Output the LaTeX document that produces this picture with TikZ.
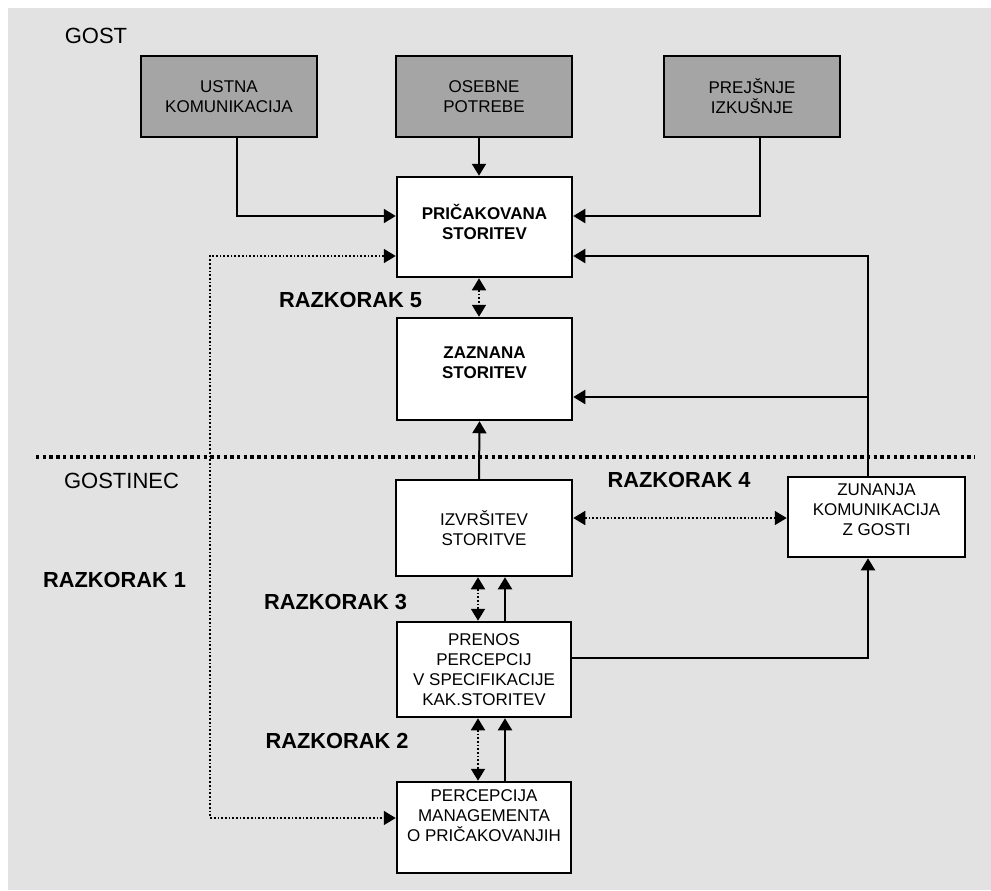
\documentclass[tikz,border=0pt]{standalone}
\usepackage{fontspec}
\setmainfont{Liberation Sans}
\usetikzlibrary{arrows.meta}
\definecolor{bggray}{RGB}{226,226,226}
\definecolor{boxgray}{RGB}{165,165,165}

\begin{document}
\begin{tikzpicture}[
    x=0.5pt, y=-0.5pt,
    box/.style={draw, rectangle, line width=1.25pt, fill=white, inner sep=0pt, align=center, font=\fontsize{8.5}{10}\selectfont},
    topbox/.style={box, fill=boxgray, minimum width=88pt, minimum height=40.5pt},
    mainbox/.style={box, font=\bfseries\fontsize{8.5}{10}\selectfont},
    side/.style={inner sep=0pt, font=\fontsize{11}{13}\selectfont},
    gaplabel/.style={inner sep=0pt, font=\bfseries\fontsize{10.9}{12}\selectfont},
    arrow/.style={-{Triangle[length=6pt,width=7pt]}, line width=1pt},
    dotarrow/.style={{Triangle[length=6pt,width=7pt]}-{Triangle[length=6pt,width=7pt]}, line width=0.85pt, dash pattern=on 0.85pt off 1pt},
    separator/.style={line width=2pt, dash pattern=on 1.7pt off 1.65pt}
]

% Background
\useasboundingbox (0,0) rectangle (991,890);
\fill[bggray] (8,8) rectangle (991,890);

% Labels
\node[side] (gost) at (96,36) {GOST};
\node[side] (gostinec) at (121.5,481) {GOSTINEC};
\node[gaplabel] (gap1) at (114.5,580) {RAZKORAK 1};
\node[gaplabel] (gap2) at (337,741) {RAZKORAK 2};
\node[gaplabel] (gap3) at (335.5,602) {RAZKORAK 3};
\node[gaplabel] (gap4) at (679,479.5) {RAZKORAK 4};
\node[gaplabel] (gap5) at (350.5,300) {RAZKORAK 5};

% Guest side
\node[topbox] (ustna) at (229,96.5) {USTNA\\KOMUNIKACIJA};
\node[topbox] (osebne) at (484,96.5) {OSEBNE\\POTREBE};
\node[topbox] (prejsnje) at (752,96.5) {PREJŠNJE\\IZKUŠNJE};
\node[mainbox, minimum width=87.5pt, minimum height=50pt] (pric) at (484.5,227) {PRIČAKOVANA\\STORITEV\\[-4.5pt]\mbox{}};
\node[mainbox, minimum width=87.5pt, minimum height=51pt] (zaz) at (484.5,369) {ZAZNANA\\STORITEV\\[-3.5pt]\mbox{}};

% Separator
\draw[separator] (36,457) -- (975,457);

% Provider side
\node[box, minimum width=88pt, minimum height=48pt] (izv) at (484,528) {IZVRŠITEV\\STORITVE};
\node[box, minimum width=88.5pt, minimum height=40pt] (zun) at (876.5,517) {ZUNANJA\\KOMUNIKACIJA\\Z GOSTI\\[-3pt]\mbox{}};
\node[box, minimum width=87pt, minimum height=47.5pt] (prenos) at (484,669.5) {PRENOS\\PERCEPCIJ\\V SPECIFIKACIJE\\KAK.STORITEV};
\node[box, minimum width=87pt, minimum height=45.5pt] (perc) at (484,827.5) {PERCEPCIJA\\MANAGEMENTA\\O PRIČAKOVANJIH\\[1.5pt]\mbox{}};
\coordinate (loop) at (210,500);
\coordinate (branch) at (868,397);

% Connections
\draw[arrow] ([xshift=4pt]ustna.south) |- ([yshift=5.5pt]pric.west);
\draw[arrow] ([xshift=-2.5pt]osebne.south) -- ([xshift=-2.75pt]pric.north);
\draw[arrow] ([xshift=4pt]prejsnje.south) |- ([yshift=5.5pt]pric.east);
\draw[arrow] ([xshift=-4.25pt]zun.north) |- ([yshift=-14.5pt]pric.east);
\draw[arrow] (branch) -- (branch -| zaz.east);
\draw[dotarrow] ([xshift=-2.75pt]pric.south) -- ([xshift=-2.75pt]zaz.north);
\draw[arrow] ([xshift=-2.5pt]izv.north) -- ([xshift=-2.5pt]zaz.south);
\draw[dotarrow] ([yshift=5pt]izv.east) -- ([yshift=5pt]izv.east -| zun.west);
\draw[arrow] ([yshift=5.75pt]prenos.east) -| ([xshift=-4.25pt]zun.south);
\draw[dotarrow] ([xshift=-3pt]izv.south) -- ([xshift=-3pt]prenos.north);
\draw[arrow] ([xshift=10.5pt]prenos.north) -- ([xshift=10.5pt]izv.south);
\draw[dotarrow] ([xshift=-3pt]prenos.south) -- ([xshift=-3pt]perc.north);
\draw[arrow] ([xshift=10.5pt]perc.north) -- ([xshift=10.5pt]prenos.south);
\draw[dotarrow] ([yshift=-14.5pt]pric.west) -| (loop) |- ([yshift=4.75pt]perc.west);

\end{tikzpicture}
\end{document}
